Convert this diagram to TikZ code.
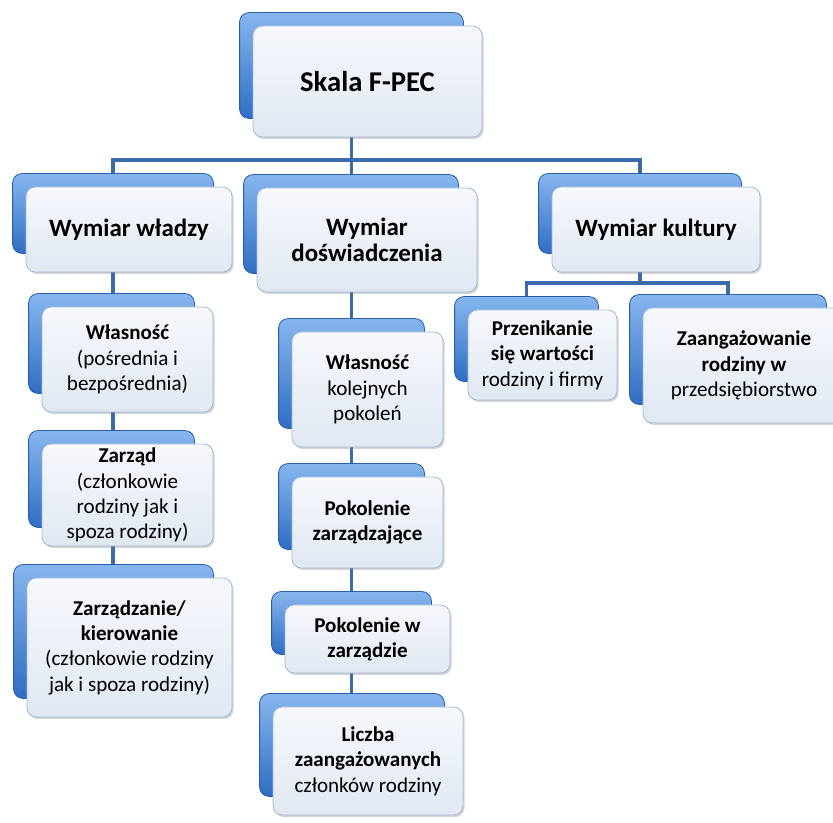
\documentclass[tikz,border=0pt]{standalone}
\usepackage{fontspec}
\setmainfont{Carlito}
\usetikzlibrary{calc}
\usetikzlibrary{shadows}
\usetikzlibrary{backgrounds}

\definecolor{backtop}{HTML}{86B6EE}
\definecolor{backbot}{HTML}{2F6EC4}
\definecolor{backedge}{HTML}{2A5EA8}
\definecolor{facetop}{HTML}{F6F8FC}
\definecolor{facebot}{HTML}{E1E8F2}
\definecolor{faceedge}{HTML}{A2BAD8}
\definecolor{linkblue}{HTML}{3C6BAA}

\pgfdeclarelayer{links}
\pgfdeclarelayer{backs}
\pgfsetlayers{links,backs,main}

\begin{document}
\begin{tikzpicture}[x=.75pt, y=-.75pt,
  card/.style={draw=faceedge, line width=.6pt, rounded corners=7pt,
    top color=facetop, bottom color=facebot, align=center, inner sep=0pt,
    drop shadow={shadow xshift=1.2pt, shadow yshift=-1.5pt, opacity=.35}},
  boxsize/.style 2 args={minimum width=#1*.75pt, minimum height=#2*.75pt},
  backcard/.style={draw=backedge, line width=.6pt, rounded corners=7pt,
    top color=backtop, bottom color=backbot},
  link/.style={draw=linkblue, line width=2.4pt},
  title/.style={font=\fontsize{21.5}{26}\selectfont\bfseries},
  big/.style={font=\fontsize{18.7}{20}\selectfont\bfseries},
  small/.style={font=\fontsize{15.8}{19}\selectfont}]
  \useasboundingbox (0,0) rectangle (833,823);

  % top level
  \node[card, boxsize={229}{111}, title] at (367.5, 81.5) (skala) {Skala F-PEC};

  % dimensions
  \node[card, boxsize={206}{85}, big] at (129, 229.5) (wladza) {Wymiar władzy};
  \node[card, boxsize={220}{104}, big] at (367, 240) (doswiad) {Wymiar\\doświadczenia};
  \node[card, boxsize={208}{85}, big] at (656, 229.5) (kultura) {Wymiar kultury};

  % power
  \node[card, boxsize={171}{105}, small] at (127.5, 359.5) (wlasn) {\textbf{Własność}\\(pośrednia i\\bezpośrednia)};
  \node[card, boxsize={171}{102}, small] at (127.5, 495) (zarzad) {\textbf{Zarząd}\\(członkowie\\rodziny jak i\\spoza rodziny)};
  \node[card, boxsize={205}{139}, small] at (129.5, 647.5) (kier) {\textbf{Zarządzanie/}\\\textbf{kierowanie}\\(członkowie rodziny\\jak i spoza rodziny)};

  % experience
  \node[card, boxsize={151}{115}, small] at (367.5, 389.5) (pokol) {\textbf{Własność}\\kolejnych\\pokoleń};
  \node[card, boxsize={151}{91}, small] at (367.5, 522.5) (zarzadz) {\textbf{Pokolenie}\\\textbf{zarządzające}};
  \node[card, boxsize={165}{68}, small] at (367.5, 639) (wzarz) {\textbf{Pokolenie w}\\\textbf{zarządzie}};
  \node[card, boxsize={190}{108}, small] at (368, 761) (liczba) {\textbf{Liczba}\\\textbf{zaangażowanych}\\członków rodziny};

  % culture
  \node[card, boxsize={149}{90}, small] at (542.5, 355) (przenik) {\textbf{Przenikanie}\\\textbf{się wartości}\\rodziny i firmy};
  \node[card, boxsize={202}{115}, small] at (744, 365.5) (zaang) {\textbf{Zaangażowanie}\\\textbf{rodziny w}\\przedsiębiorstwo};

  % blue cards behind
  \begin{pgfonlayer}{backs}
    \foreach \n in {skala,wladza,doswiad,kultura,wlasn,zarzad,kier,pokol,zarzadz,wzarz,liczba,przenik,zaang} {
      \coordinate (\n-b) at ($(\n.center)+(-16,-16)$);
      \path[backcard] ($(\n.north west)+(-13,-13)$) rectangle ($(\n.south east)+(-19,-19)$);
    }
  \end{pgfonlayer}

  % connectors
  \coordinate (bar) at (0,160);
  \coordinate (bar2) at (0,283);
  \begin{pgfonlayer}{links}
    \draw[link] (skala-b) -- (skala-b |- bar);
    \draw[link] (wladza-b) |- (bar -| kultura-b) -- (kultura-b);
    \draw[link] (wladza-b) -- (wladza-b |- kier-b);
    \draw[link] (skala-b |- bar) -- (skala-b |- liczba-b);
    \draw[link] (kultura-b) -- (kultura-b |- bar2) -| (przenik-b);
    \draw[link] (kultura-b |- bar2) -| (zaang-b);
  \end{pgfonlayer}
\end{tikzpicture}
\end{document}
